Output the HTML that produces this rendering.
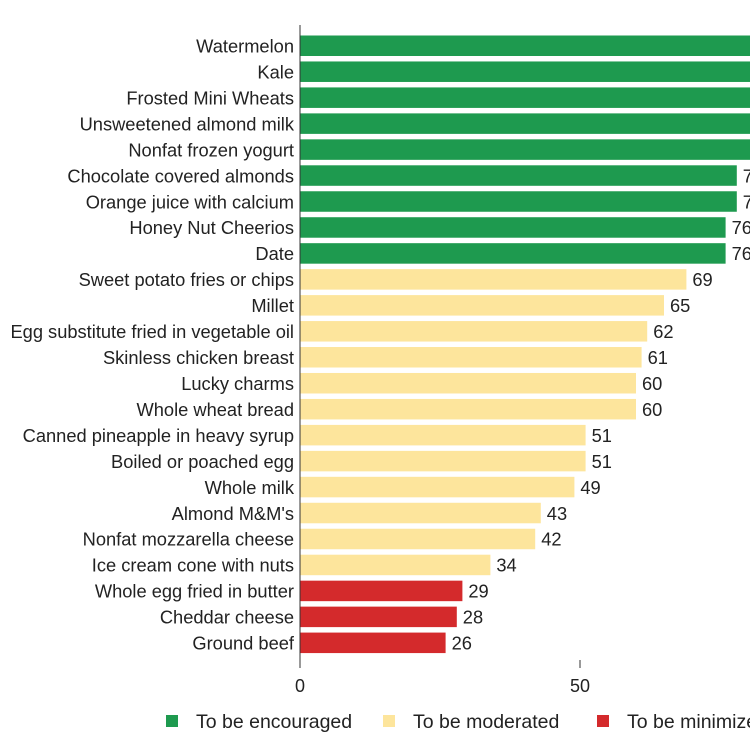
<!DOCTYPE html>
<html><head><meta charset="utf-8"><style>
body{margin:0;background:#fff;width:750px;height:755px;overflow:hidden}
svg{display:block;font-family:"Liberation Sans",sans-serif}
</style></head><body>
<svg id="c" width="750" height="755"></svg>
<script>
const categories=["Watermelon","Kale","Frosted Mini Wheats","Unsweetened almond milk","Nonfat frozen yogurt","Chocolate covered almonds","Orange juice with calcium","Honey Nut Cheerios","Date","Sweet potato fries or chips","Millet","Egg substitute fried in vegetable oil","Skinless chicken breast","Lucky charms","Whole wheat bread","Canned pineapple in heavy syrup","Boiled or poached egg","Whole milk","Almond M&M's","Nonfat mozzarella cheese","Ice cream cone with nuts","Whole egg fried in butter","Cheddar cheese","Ground beef"];
const values=[100,93,91,88,86,78,78,76,76,69,65,62,61,60,60,51,51,49,43,42,34,29,28,26];
const groups=["enc","enc","enc","enc","enc","enc","enc","enc","enc","mod","mod","mod","mod","mod","mod","mod","mod","mod","mod","mod","mod","min","min","min"];
const ticks=[0,50,100];
const legendLabels=["To be encouraged","To be moderated","To be minimized"];
const colors={enc:"#1e9a4f",mod:"#fde59c",min:"#d42a2c"};
const NS="http://www.w3.org/2000/svg";
const svg=document.getElementById("c");
const x=v=>300+v*5.6;
const y=i=>35.5+i*25.96;
function mk(t,a,txt){const e=document.createElementNS(NS,t);for(const k in a)e.setAttribute(k,a[k]);if(txt!==undefined)e.textContent=txt;svg.appendChild(e);return e;}
categories.forEach((c,i)=>{
 const r=mk("rect",{x:x(0),y:y(i),width:x(values[i])-x(0),height:20.5,fill:colors[groups[i]]});
 
 
 const l=mk("text",{x:294,y:y(i)+17,"text-anchor":"end","font-size":"18.3",fill:"#222"},c);
 
 
 const v=mk("text",{x:x(values[i])+6,y:y(i)+17,"font-size":"18.3",fill:"#222"},values[i]);
 
 
});
const ax=mk("line",{x1:300,y1:25,x2:300,y2:668,stroke:"#333","stroke-width":1});


ticks.forEach(t=>{
 const tl=mk("line",{x1:x(t),y1:660,x2:x(t),y2:668,stroke:"#333"});
 
 
 const tt=mk("text",{x:x(t),y:692,"text-anchor":"middle","font-size":"18",fill:"#222"},t);
 
 
});
const lx=[166,383,597],lc=[colors.enc,colors.mod,colors.min];
legendLabels.forEach((s,i)=>{
 const r=mk("rect",{x:lx[i],y:715,width:12,height:12,fill:lc[i]});
 
 
 const t=mk("text",{x:lx[i]+30,y:728,"font-size":"19.5",fill:"#222"},s);
 
 
});
</script>
</body></html>
